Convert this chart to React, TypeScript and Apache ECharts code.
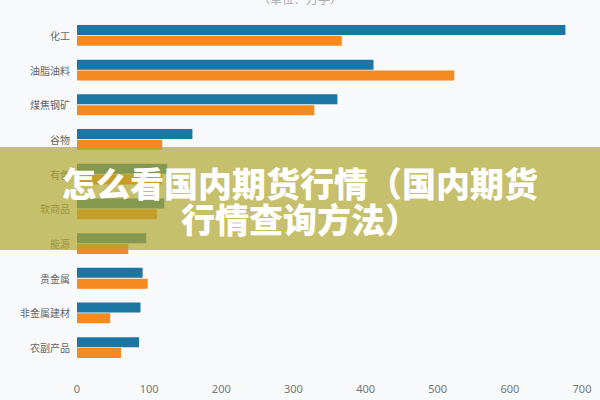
import React, { useEffect, useRef } from "react";
import * as echarts from "echarts";

const categories = ["化工", "油脂油料", "煤焦钢矿", "谷物", "有色", "软商品", "能源", "贵金属", "非金属建材", "农副产品"];
const seriesA = [677, 411, 361, 160, 125, 121, 96, 91, 88, 86];
const seriesB = [367, 523, 329, 118, 118, 111, 71, 98, 46, 61];
const xTicks = { min: 0, max: 700, interval: 100 };
const bannerLines = ["怎么看国内期货行情（国内期货", "行情查询方法）"];

export default function App() {
  const ref = useRef<HTMLDivElement>(null);
  useEffect(() => {
    if (!ref.current) return;
    const chart = echarts.init(ref.current, undefined, { renderer: "svg" });
    const bannerText = (text: string, y: number) => ({
      type: "text",
      x: 300,
      y,
      z: 101,
      style: {
        text,
        fill: "#ffffff",
        fontSize: 34,
        fontWeight: 900,
        fontFamily: "Noto Sans CJK SC",
        align: "center",
        verticalAlign: "middle",
      },
    });
    chart.setOption({
      animation: false,
      backgroundColor: "#f8f9fb",
      grid: { left: 77, right: 18, top: 18, bottom: 35, containLabel: false },
      xAxis: {
        type: "value",
        min: xTicks.min,
        max: xTicks.max,
        interval: xTicks.interval,
        axisLine: { show: false },
        axisTick: { show: false },
        splitLine: { show: false },
        axisLabel: { color: "#777", fontSize: 11, margin: 18, fontFamily: "Noto Sans" },
      },
      yAxis: {
        type: "category",
        data: categories,
        inverse: true,
        axisLine: { show: false },
        axisTick: { show: false },
        axisLabel: { color: "#666", fontSize: 10, margin: 7, fontFamily: "Noto Sans CJK SC" },
      },
      series: [
        {
          name: "A",
          type: "bar",
          data: seriesA,
          itemStyle: { color: "#1d76a1" },
          barWidth: 10,
          barGap: "8%",
        },
        {
          name: "B",
          type: "bar",
          data: seriesB,
          itemStyle: { color: "#f58a1f" },
          barWidth: 10,
          barGap: "8%",
        },
      ],
      graphic: [
        {
          type: "text",
          left: "center",
          top: -8,
          style: { text: "（单位：万手）", fill: "#aaa", fontSize: 12, fontFamily: "Noto Sans CJK SC" },
        },
        {
          type: "rect",
          shape: { x: 0, y: 147, width: 600, height: 103 },
          style: { fill: "rgba(176,166,46,0.7)" },
          z: 100,
        },
        bannerText(bannerLines[0], 182),
        bannerText(bannerLines[1], 218),
      ],
    });
    return () => chart.dispose();
  }, []);
  return <div ref={ref} style={{ width: 600, height: 400, position: "fixed", left: 0, top: 0 }} />;
}
